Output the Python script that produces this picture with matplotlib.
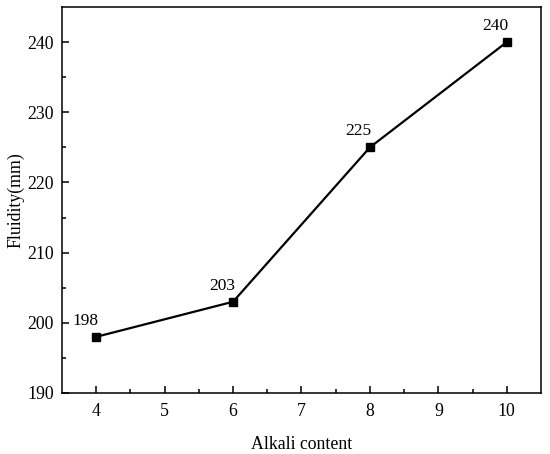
import matplotlib.pyplot as plt

alkali = [4, 6, 8, 10]
fluidity = [198, 203, 225, 240]
labels = ["198", "203", "225", "240"]

plt.rcParams["font.family"] = ["Liberation Serif", "DejaVu Serif"]

fig = plt.figure(figsize=(5.5, 4.54), dpi=100)
ax = fig.add_axes([0.1127, 0.1344, 0.8709, 0.8502])

ax.plot(alkali, fluidity, color="black", lw=1.6, marker="s", ms=6)

for x, y, t in zip(alkali, fluidity, labels):
    ax.annotate(t, (x, y), textcoords="offset points", xytext=(-8, 11.5),
                ha="center", va="center", fontsize=12.5)

ax.set_xlim(3.5, 10.5)
ax.set_ylim(190, 245)
ax.set_xticks(range(4, 11))
ax.set_yticks(range(190, 241, 10))
ax.set_xticks([4.5 + i for i in range(6)], minor=True)
ax.set_yticks([195 + 10 * i for i in range(5)], minor=True)
ax.tick_params(which="both", direction="in", labelsize=12.8, width=1.1)
ax.tick_params(which="major", length=5)
ax.tick_params(which="minor", length=3)
ax.tick_params(axis="x", pad=7)
ax.tick_params(axis="y", pad=6)
for s in ax.spines.values():
    s.set_linewidth(1.1)

ax.set_xlabel("Alkali content", fontsize=12.8, labelpad=12)
ax.set_ylabel("Fluidity(mm)", fontsize=12.8, labelpad=2)

fig.savefig("out.png", dpi=100)
